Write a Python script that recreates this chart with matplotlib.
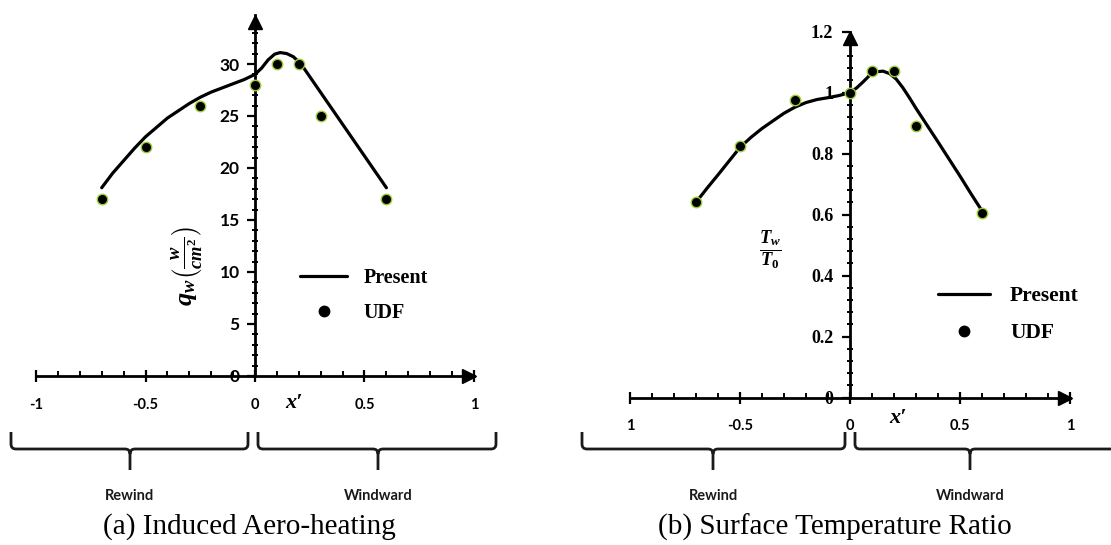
import matplotlib
matplotlib.use("Agg")
import matplotlib.pyplot as plt
from matplotlib.ticker import FixedLocator
from matplotlib.path import Path
from matplotlib.patches import PathPatch
from matplotlib.font_manager import FontProperties
import numpy as np

plt.rcParams['mathtext.fontset'] = 'custom'
plt.rcParams['mathtext.it'] = 'Liberation Serif:italic:bold'
plt.rcParams['mathtext.rm'] = 'Liberation Serif:bold'
plt.rcParams['mathtext.bf'] = 'Liberation Serif:bold'

# ---------------- data ----------------
udf_x = [-0.7, -0.5, -0.25, 0.0, 0.1, 0.2, 0.3, 0.6]
udf_qw = [17, 22, 26, 28, 30, 30, 25, 17]
udf_tr = [0.64, 0.823, 0.976, 1.0, 1.07, 1.07, 0.89, 0.605]

present_x_a = [-0.70, -0.65, -0.60, -0.55, -0.50, -0.45, -0.40, -0.35, -0.30, -0.25,
               -0.20, -0.15, -0.10, -0.05, 0.0, 0.03, 0.06, 0.09, 0.115, 0.145,
               0.175, 0.20, 0.22, 0.6]
present_qw = [18.1, 19.5, 20.7, 21.9, 23.0, 23.9, 24.8, 25.5, 26.2, 26.8,
              27.3, 27.7, 28.1, 28.5, 29.0, 29.6, 30.4, 30.95, 31.1, 31.0,
              30.7, 30.2, 29.7, 18.1]

present_x_b = [-0.70, -0.65, -0.60, -0.55, -0.50, -0.45, -0.40, -0.35, -0.30, -0.25,
               -0.20, -0.15, -0.10, -0.05, 0.0, 0.03, 0.06, 0.09, 0.12, 0.15,
               0.18, 0.21, 0.24, 0.27, 0.30, 0.35, 0.40, 0.45, 0.50, 0.55, 0.60]
present_tr = [0.64, 0.686, 0.73, 0.775, 0.82, 0.853, 0.882, 0.907, 0.932, 0.952,
              0.967, 0.977, 0.983, 0.99, 1.0, 1.015, 1.035, 1.057, 1.068, 1.07,
              1.062, 1.044, 1.016, 0.983, 0.948, 0.893, 0.838, 0.782, 0.726, 0.668, 0.612]

x_ticks = [-1, -0.5, 0, 0.5, 1]
x_labels_a = ['-1', '-0.5', '0', '0.5', '1']
x_labels_b = ['1', '-0.5', '0', '0.5', '1']
y_ticks_a = [0, 5, 10, 15, 20, 25, 30]
y_labels_a = ['0', '5', '10', '15', '20', '25', '30']
y_ticks_b = [0, 0.2, 0.4, 0.6, 0.8, 1.0, 1.2]
y_labels_b = ['0', '0.2', '0.4', '0.6', '0.8', '1', '1.2']

series_names = ['Present', 'UDF']
region_names = ['Rewind', 'Windward']
captions = ['(a) Induced Aero-heating', '(b) Surface Temperature Ratio']

# ---------------- layout ----------------
W, H = 1111, 545
fig = plt.figure(figsize=(W / 100, H / 100), dpi=100)

ov = fig.add_axes([0, 0, 1, 1])
ov.set_xlim(0, W)
ov.set_ylim(H, 0)
ov.axis('off')


def place(x0, y0, sx, sy, xlim, ylim):
    left = x0 + sx * xlim[0]
    right = x0 + sx * xlim[1]
    top = y0 - sy * ylim[1]
    bottom = y0 - sy * ylim[0]
    ax = fig.add_axes([left / W, 1 - bottom / H, (right - left) / W, (bottom - top) / H])
    ax.set_xlim(*xlim)
    ax.set_ylim(*ylim)
    ax.patch.set_alpha(0)
    return ax


def style_axes(ax, ytop, yminor, xlabels, ylabels, yticks, xfont, yfont, xpad, ypad, arrow_dy):
    for s in ['top', 'right']:
        ax.spines[s].set_visible(False)
    ax.spines['left'].set_position(('data', 0))
    ax.spines['bottom'].set_position(('data', 0))
    ax.spines['left'].set_bounds(0, ytop)
    ax.spines['bottom'].set_bounds(-1, 1)
    for s in ['left', 'bottom']:
        ax.spines[s].set_linewidth(2.0)
    ax.xaxis.set_major_locator(FixedLocator(x_ticks))
    ax.set_xticklabels(xlabels)
    ax.xaxis.set_minor_locator(FixedLocator(np.round(np.arange(-1, 1.01, 0.1), 2)))
    ax.yaxis.set_major_locator(FixedLocator(yticks))
    ax.set_yticklabels(ylabels)
    ax.yaxis.set_minor_locator(FixedLocator(yminor))
    ax.tick_params(axis='x', which='major', direction='inout', length=9, width=1.6, pad=xpad)
    ax.tick_params(axis='x', which='minor', direction='in', length=3.5, width=1.4)
    ax.tick_params(axis='y', which='major', direction='out', length=6, width=1.6, pad=ypad)
    ax.tick_params(axis='y', which='minor', direction='inout', length=4, width=1.4)
    for t in ax.get_xticklabels():
        t.set_fontproperties(xfont)
    for t in ax.get_yticklabels():
        t.set_fontproperties(yfont)
    ax.plot([0.975], [0], marker='>', ms=10, color='k', clip_on=False, zorder=5)
    ax.plot([0], [ytop - arrow_dy], marker='^', ms=10, color='k', clip_on=False, zorder=5)


fx = FontProperties(family='Lato', weight='bold', size=10.5)
fya = FontProperties(family='Lato', weight='bold', size=12.5)
fyb = FontProperties(family='Liberation Serif', weight='bold', size=13)

line_kw = dict(color='black', lw=2.3, solid_capstyle='round', solid_joinstyle='round', zorder=3)
mark_kw = dict(ls='none', marker='o', ms=7.5, mfc='black', mec='#9acd32', mew=1.0, zorder=4)

# ---- panel (a) ----
axa = place(255, 376, 219, 10.4, (-1.1, 1.1), (-3, 36))
ln1, = axa.plot(present_x_a, present_qw, label=series_names[0], **line_kw)
mk1, = axa.plot(udf_x, udf_qw, label=series_names[1], **mark_kw)
style_axes(axa, 34.7, np.arange(0, 34.5, 1), x_labels_a, y_labels_a, y_ticks_a,
           fx, fya, 11, 5, 0.7)
axa.text(0.18, -2.6, "x\u2032", fontsize=16, family='Liberation Serif', style='italic',
         weight='bold', ha='center', va='center')
leg_a = axa.legend(handles=[ln1, mk1], loc='upper left',
                   bbox_to_anchor=(300 / W, 1 - 268 / H), bbox_transform=fig.transFigure,
                   frameon=False, borderpad=0, borderaxespad=0, handlelength=2.35,
                   handletextpad=0.8, labelspacing=0.75,
                   prop=FontProperties(family='Liberation Serif', weight='bold', size=14.5))
for h in leg_a.legend_handles:
    if h.get_marker() == 'o':
        h.set_markeredgecolor('black')

# ---- panel (b) ----
axb = place(850, 397.5, 220, 305, (-1.1, 1.1), (-0.1, 1.28))
ln2, = axb.plot(present_x_b, present_tr, label=series_names[0], **line_kw)
mk2, = axb.plot(udf_x, udf_tr, label=series_names[1], **mark_kw)
style_axes(axb, 1.2, np.round(np.arange(0, 1.19, 0.04), 2), x_labels_b, y_labels_b, y_ticks_b,
           fx, fyb, 11, 6, 0.022)
axb.text(0.22, -0.068, "x\u2032", fontsize=16, family='Liberation Serif', style='italic',
         weight='bold', ha='center', va='center')
leg_b = axb.legend(handles=[ln2, mk2], loc='upper left',
                   bbox_to_anchor=(938 / W, 1 - 286 / H), bbox_transform=fig.transFigure,
                   frameon=False, borderpad=0, borderaxespad=0, handlelength=2.4,
                   handletextpad=0.95, labelspacing=0.8,
                   prop=FontProperties(family='Liberation Serif', weight='bold', size=15.5))
for h in leg_b.legend_handles:
    if h.get_marker() == 'o':
        h.set_markeredgecolor('black')

# ---- axis titles ----
ov.text(188, 266, r"$q_w\left(\frac{w}{cm^2}\right)$", rotation=90, fontsize=19,
        ha='center', va='center')
ov.text(770, 250, r"$\frac{T_w}{T_0}$", fontsize=19, ha='center', va='center')


# ---- braces ----
def brace(x0, x1, xc, top=432, base=449, tip=470, r=5):
    verts = [(x0, top), (x0, base - r), (x0, base), (x0 + r, base),
             (xc - r, base), (xc, base), (xc, base + r), (xc, tip),
             (xc, base + r), (xc, base), (xc + r, base),
             (x1 - r, base), (x1, base), (x1, base - r), (x1, top)]
    codes = [Path.MOVETO, Path.LINETO, Path.CURVE3, Path.CURVE3,
             Path.LINETO, Path.CURVE3, Path.CURVE3, Path.LINETO,
             Path.MOVETO, Path.CURVE3, Path.CURVE3,
             Path.LINETO, Path.CURVE3, Path.CURVE3, Path.LINETO]
    ov.add_patch(PathPatch(Path(verts, codes), fill=False, lw=2.0, color='#1a1a1a'))


braces = [(11, 248, 130), (258, 496, 378), (582, 845, 713), (855, 1125, 970)]
for (b0, b1, bc), name in zip(braces, region_names * 2):
    brace(b0, b1, bc)
    ov.text(bc, 496, name, fontsize=10.5, family='Lato', weight='bold',
            ha='center', va='center', color='#1a1a1a')

ov.text(249, 527, captions[0], fontsize=21, family='Liberation Serif', ha='center', va='center')
ov.text(835, 527, captions[1], fontsize=21, family='Liberation Serif', ha='center', va='center')

fig.savefig('out.png', dpi=100)
